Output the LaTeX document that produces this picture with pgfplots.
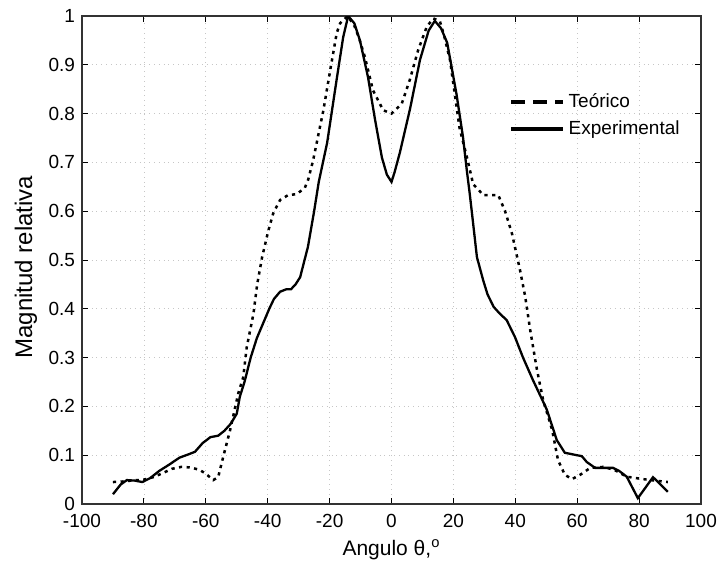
\documentclass[border=0pt]{standalone}
\usepackage{fontspec}
\setmainfont{Liberation Sans}
\usepackage{pgfplots}
\pgfplotsset{compat=1.18}
\begin{document}
\begin{tikzpicture}
\begin{axis}[
  scale only axis,
  width=309.5pt, height=244pt,
  xmin=-100, xmax=100, ymin=0, ymax=1,
  xtick={-100,-80,...,100},
  ytick={0,0.1,...,1.0},
  yticklabels={0,0.1,0.2,0.3,0.4,0.5,0.6,0.7,0.8,0.9,1},
  tick align=inside,
  major tick length=3pt,
  tick style={black, line width=0.5pt},
  axis line style={black!80, line width=0.6pt},
  grid=major,
  major grid style={dotted, gray!45, line width=0.4pt},
  /pgf/number format/assume math mode=true,
  tick label style={font=\fontsize{9.5}{10}\selectfont},
  xticklabel style={yshift=-1.5pt},
  xlabel style={font=\fontsize{10.5}{12}\selectfont, yshift=1pt},
  ylabel style={font=\fontsize{12}{13}\selectfont, at={(rel axis cs:0,0.5)}, yshift=28pt, xshift=-3.5pt, anchor=center},
  xlabel={Angulo θ,\textsuperscript{o}},
  ylabel={Magnitud relativa},
  legend style={at={(rel axis cs:0.69,0.85)}, anchor=north west, draw=none, fill=none,
    font=\fontsize{9.5}{11}\selectfont, row sep=1pt, inner sep=0pt,
    /tikz/every even column/.append style={column sep=2.5pt}},
  legend cell align=left,
]
\addplot[black, line width=1.25pt, dash pattern=on 1.6pt off 2.2pt,
  legend image code/.code={\draw[black, line width=1.6pt, dash pattern=on 7pt off 4pt] (0pt,0pt) -- (26pt,0pt);}]
coordinates {
(-90,0.045) (-87,0.046) (-84,0.048) (-80,0.05) (-77,0.055) (-74,0.063) (-71,0.072)
(-68,0.076) (-65,0.075) (-62,0.07) (-60,0.062) (-57.6,0.049) (-56,0.055) (-54.4,0.096)
(-52.2,0.15) (-49.5,0.227) (-47.9,0.26) (-46.8,0.32) (-44.6,0.39) (-43.4,0.45)
(-41.8,0.506) (-39.8,0.56) (-38.2,0.596) (-36,0.623) (-33.4,0.633) (-30.6,0.635)
(-28,0.648) (-26.9,0.665) (-25.3,0.705) (-22,0.807) (-19.8,0.889) (-17.7,0.965)
(-16.6,0.985) (-14.2,1.0) (-12,0.98) (-10.5,0.955) (-8.6,0.916) (-6,0.848)
(-2.7,0.807) (0,0.80) (3.3,0.82) (5.9,0.869) (8.6,0.93) (11.4,0.978) (13.5,0.995)
(15.6,0.99) (17,0.96) (18.9,0.91) (22,0.77) (24.4,0.71) (26.4,0.655) (28,0.645)
(29.6,0.633) (34.5,0.633) (36.7,0.60) (38.9,0.555) (41.5,0.48) (43.2,0.425)
(44.8,0.357) (47,0.275) (49,0.213) (51.9,0.152) (53.8,0.09) (56,0.06) (58.3,0.051)
(61,0.06) (64.2,0.074) (68.4,0.076) (72,0.07) (76,0.056) (81.3,0.051) (85,0.048)
(89.3,0.045)
};
\addlegendentry{Teórico}
\addplot[black, line width=1.15pt,
  legend image code/.code={\draw[black, line width=1.6pt] (0pt,0pt) -- (26pt,0pt);}]
coordinates {
(-90,0.02) (-87.5,0.04) (-85.5,0.049) (-83,0.048) (-80.5,0.045) (-78,0.053)
(-75,0.068) (-72,0.08) (-68.5,0.095) (-65.5,0.102) (-63.5,0.107) (-61,0.125)
(-58.5,0.137) (-56,0.14) (-54,0.15) (-52,0.164) (-50,0.185) (-49,0.22) (-47.5,0.25)
(-45.5,0.30) (-43.5,0.34) (-41.5,0.37) (-39.5,0.40) (-38,0.42) (-36,0.435)
(-34,0.44) (-32.5,0.44) (-31,0.45) (-29.5,0.465) (-28.5,0.49) (-27,0.527)
(-25,0.60) (-23.5,0.66) (-20.8,0.74) (-17.6,0.875) (-15.6,0.957) (-14,1.0)
(-12,0.985) (-10.2,0.95) (-7.6,0.875) (-5.3,0.787) (-3.1,0.71) (-1.5,0.675)
(0,0.66) (1,0.68) (2.7,0.72) (6,0.81) (9.2,0.91) (12,0.97) (14,0.99) (16,0.975)
(18,0.945) (21,0.84) (23.1,0.752) (24.4,0.68) (25.2,0.64) (26,0.596) (27.6,0.506)
(29.6,0.459) (31,0.43) (33,0.404) (35,0.39) (37.2,0.377) (39.9,0.342) (42.5,0.30)
(45.7,0.254) (48.6,0.215) (50.2,0.193) (53.4,0.131) (56,0.105) (59.9,0.10)
(61.5,0.098) (63.1,0.086) (65.8,0.074) (71.6,0.074) (73.5,0.068) (76,0.056)
(79.6,0.012) (84.5,0.055) (89.3,0.025)
};
\addlegendentry{Experimental}
\end{axis}
\pgfresetboundingbox
\path[use as bounding box] (-41pt,-30pt) rectangle (318pt,252pt);
\end{tikzpicture}
\end{document}
